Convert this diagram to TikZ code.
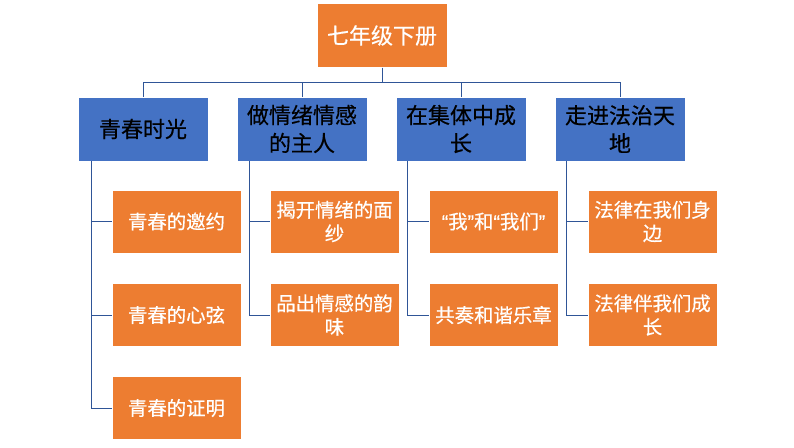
\documentclass[tikz,border=0pt]{standalone}
\usepackage{fontspec}
\newfontfamily\cjk[FakeBold=0.5]{Noto Sans CJK SC}
\newfontfamily\latq[FakeBold=0.5]{Liberation Sans}
\definecolor{boxorange}{RGB}{237,125,49}
\definecolor{boxblue}{RGB}{68,114,196}
\definecolor{linkblue}{RGB}{47,85,151}
\begin{document}
\begin{tikzpicture}[x=1pt,y=-1pt,
  topbox/.style={fill=boxorange,draw=white,line width=0.6pt,minimum width=130pt,minimum height=64pt,
    text=white,font=\cjk\fontsize{22}{28}\selectfont,align=center,inner sep=0pt},
  secbox/.style={fill=boxblue,draw=white,line width=0.6pt,minimum width=130pt,minimum height=64pt,
    text=black,font=\cjk\fontsize{22}{28}\selectfont,align=center,inner sep=0pt},
  leafbox/.style={fill=boxorange,draw=white,line width=0.6pt,minimum width=129pt,minimum height=63pt,
    text=white,font=\cjk\fontsize{19.4}{23.5}\selectfont,align=center,inner sep=0pt},
  link/.style={draw=linkblue,line width=0.9pt}]
\useasboundingbox (0,0) rectangle (794,447);
\fill[white] (0,0) rectangle (794,447);

\node[topbox] (top) at (382,35.5) {七年级下册};

\node[secbox] (a) at (143,129) {青春时光};
\node[secbox] (b) at (302,129) {做情绪情感\\的主人};
\node[secbox] (c) at (461,129) {在集体中成\\长};
\node[secbox] (d) at (620,129) {走进法治天\\地};

\node[leafbox] (a1) at (176.5,221.5) {青春的邀约};
\node[leafbox] (a2) at (176.5,315) {青春的心弦};
\node[leafbox] (a3) at (176.5,408) {青春的证明};
\node[leafbox] (b1) at (334.5,221.5) {揭开情绪的面\\纱};
\node[leafbox] (b2) at (334.5,315) {品出情感的韵\\味};
\node[leafbox] (c1) at (493.5,221.5) {{\latq “}我{\latq ”}和{\latq “}我们{\latq ”}};
\node[leafbox] (c2) at (493.5,315) {共奏和谐乐章};
\node[leafbox] (d1) at (652.5,221.5) {法律在我们身\\边};
\node[leafbox] (d2) at (652.5,315) {法律伴我们成\\长};

\foreach \s in {a,b,c,d}
  \draw[link] (top.south) -- ++(0,14.5) -| (\s.north);

\draw[link] ([xshift=14pt]a.south west) |- (a1.west);
\draw[link] ([xshift=14pt]a.south west) |- (a2.west);
\draw[link] ([xshift=14pt]a.south west) |- (a3.west);
\draw[link] ([xshift=13pt]b.south west) |- (b1.west);
\draw[link] ([xshift=13pt]b.south west) |- (b2.west);
\draw[link] ([xshift=12pt]c.south west) |- (c1.west);
\draw[link] ([xshift=12pt]c.south west) |- (c2.west);
\draw[link] ([xshift=12pt]d.south west) |- (d1.west);
\draw[link] ([xshift=12pt]d.south west) |- (d2.west);
\end{tikzpicture}
\end{document}
